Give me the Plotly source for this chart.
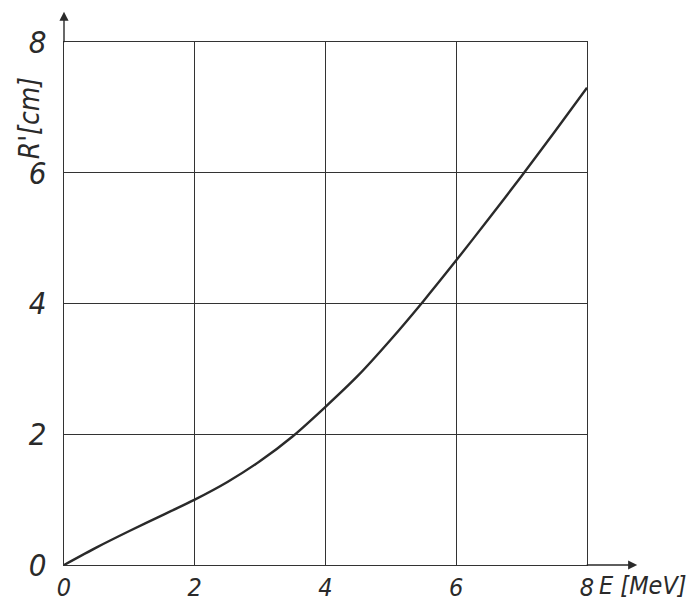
import plotly.graph_objects as go

# Energy E [MeV] and range R' [cm]
energy = [0, 0.5, 1, 1.5, 2, 2.5, 3, 3.5, 4, 4.5, 5, 5.5, 6, 6.5, 7, 7.5, 8]
range_cm = [0, 0.27, 0.52, 0.76, 1.0, 1.27, 1.59, 1.97, 2.42, 2.9, 3.45, 4.04, 4.66, 5.3, 5.95, 6.62, 7.3]
tick_vals = [0, 2, 4, 6, 8]
tick_text = ["0", "2", "4", "6", "8"]

FONT = "DejaVu Sans Condensed, Liberation Sans Narrow, Arial Narrow, sans-serif"
INK = "#2a2a2a"

fig = go.Figure()
fig.add_trace(go.Scatter(
    x=energy, y=range_cm, mode="lines",
    line=dict(color=INK, width=2.4, shape="spline", smoothing=0.8),
    hoverinfo="skip", showlegend=False,
))

axis_common = dict(
    range=[0, 8], tickvals=tick_vals, ticktext=tick_text,
    showgrid=True, gridcolor="#333333", gridwidth=1.2,
    showline=True, linecolor="#333333", linewidth=1.4, mirror=True,
    zeroline=False, ticks="", ticklen=0, automargin=False,
    fixedrange=True,
)

# page body has an 8px margin, so the figure is sized to fit inside the window without scrollbars
fig.update_layout(
    width=682, height=599,
    margin=dict(l=56, r=103, t=34, b=42),
    paper_bgcolor="white", plot_bgcolor="white",
    xaxis=dict(**axis_common, ticklabelstandoff=0,
               tickfont=dict(family=FONT, size=25, color=INK, style="italic")),
    yaxis=dict(**axis_common, ticklabelstandoff=10,
               tickfont=dict(family=FONT, size=31, color=INK, style="italic")),
    annotations=[
        # y-axis arrow
        dict(x=0, y=1.058, xref="paper", yref="paper", text="", showarrow=True,
             ax=0, ay=32, arrowhead=2, arrowsize=1.3, arrowwidth=1.4, arrowcolor=INK),
        # x-axis arrow
        dict(x=1.096, y=0, xref="paper", yref="paper", text="", showarrow=True,
             ax=-52, ay=0, arrowhead=2, arrowsize=1.3, arrowwidth=1.4, arrowcolor=INK),
        # y-axis title
        dict(x=-0.066, y=0.855, xref="paper", yref="paper", text="R'[cm]",
             textangle=-90, showarrow=False, xanchor="center", yanchor="middle",
             font=dict(family=FONT, size=28, color=INK, style="italic")),
        # x-axis title
        dict(x=1.108, y=-0.04, xref="paper", yref="paper", text="E [MeV]",
             showarrow=False, xanchor="center", yanchor="middle",
             font=dict(family=FONT, size=25, color=INK, style="italic")),
    ],
)

fig.write_html("out.html")
